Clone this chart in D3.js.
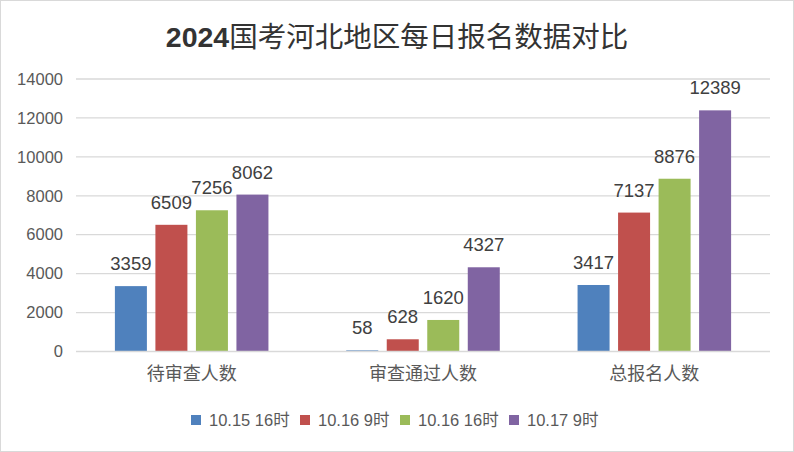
<!DOCTYPE html>
<html><head><meta charset="utf-8">
<script src="https://cdn.jsdelivr.net/npm/d3@7"></script>
<style>body{margin:0;background:#fff}svg{display:block}</style>
</head><body><svg id="c" width="794" height="452"></svg>
<script>
const categories = ["待审查人数", "审查通过人数", "总报名人数"];
const seriesNames = ["10.15 16时", "10.16 9时", "10.16 16时", "10.17 9时"];
const values = [
  [3359, 58, 3417],
  [6509, 628, 7137],
  [7256, 1620, 8876],
  [8062, 4327, 12389]
];
const colors = ["#4F81BD", "#C0504D", "#9BBB59", "#8064A2"];
const yTicks = [0, 2000, 4000, 6000, 8000, 10000, 12000, 14000];

const svg = d3.select("#c");
const W = 794, H = 452;
svg.append("rect").attr("x", 0.5).attr("y", 0.5).attr("width", W - 1).attr("height", H - 1)
  .attr("fill", "#fff").attr("stroke", "#D9D9D9");

const fontF = "'Liberation Sans','Noto Sans CJK SC',sans-serif";
const L = 76, R = 770, T = 79, B = 351.5;
const x = d3.scaleBand().domain(categories).range([L, R]);
const y = d3.scaleLinear().domain([0, 14000]).range([B, T]);

// title
const title = svg.append("text").attr("x", 397).attr("y", 47).attr("text-anchor", "middle")
  .attr("font-size", 28.5).attr("fill", "#333333")
  .attr("font-family", "'Noto Sans CJK SC',sans-serif");
title.append("tspan").attr("font-weight", "bold").attr("font-family", "'Liberation Sans',sans-serif").text("2024");
title.append("tspan").attr("font-weight", 400).text("国考河北地区每日报名数据对比");

// gridlines
svg.append("g").selectAll("line").data(yTicks.slice(1)).join("line")
  .attr("x1", L).attr("x2", R).attr("y1", d => y(d)).attr("y2", d => y(d))
  .attr("stroke", "#D9D9D9").attr("stroke-width", 1.3);

// y axis labels
const yAxis = d3.axisLeft(y).tickValues(yTicks).tickFormat(d3.format("d")).tickSize(0).tickPadding(13);
const gy = svg.append("g").attr("transform", `translate(${L},0)`).call(yAxis);
gy.select(".domain").remove();
gy.selectAll("text").attr("font-size", 16.5).attr("fill", "#595959").attr("font-family", fontF);

// bars
const inner = d3.scaleBand().domain(d3.range(seriesNames.length))
  .range([0, x.bandwidth()]).paddingInner(0.21).paddingOuter(0.96);
const gBars = svg.append("g");
values.forEach((vals, si) => {
  gBars.selectAll(null).data(vals).join("rect")
    .attr("x", (d, ci) => x(categories[ci]) + inner(si))
    .attr("y", d => y(d)).attr("width", inner.bandwidth())
    .attr("height", d => B - y(d)).attr("fill", colors[si]);
  gBars.selectAll(null).data(vals).join("text")
    .attr("x", (d, ci) => x(categories[ci]) + inner(si) + inner.bandwidth() / 2)
    .attr("y", d => y(d) - 16).attr("text-anchor", "middle")
    .attr("font-size", 18.5).attr("fill", "#404040").attr("font-family", fontF)
    .text(d => d);
});

// x axis line
svg.append("line").attr("x1", L).attr("x2", R).attr("y1", B).attr("y2", B)
  .attr("stroke", "#D9D9D9").attr("stroke-width", 1.5);

// category labels
const xAxis = d3.axisBottom(x).tickSize(0).tickPadding(16);
const gx = svg.append("g").attr("transform", `translate(0,${B})`).call(xAxis);
gx.select(".domain").remove();
gx.selectAll("text").attr("font-size", 18).attr("fill", "#595959")
  .attr("font-family", "'Noto Sans CJK SC',sans-serif");

// legend
const legX = [191, 300, 400, 509];
const leg = svg.append("g");
seriesNames.forEach((n, i) => {
  leg.append("rect").attr("x", legX[i]).attr("y", 415).attr("width", 10).attr("height", 10).attr("fill", colors[i]);
  leg.append("text").attr("x", legX[i] + 18).attr("y", 426).attr("font-size", 16.5)
    .attr("fill", "#595959").attr("font-family", fontF).text(n);
});
</script></body></html>
